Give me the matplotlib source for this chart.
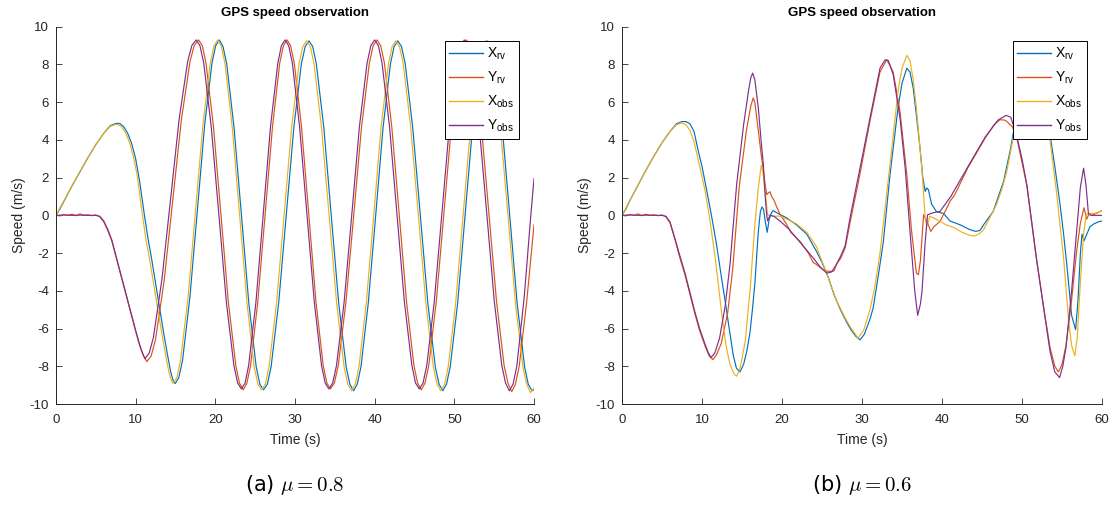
import matplotlib
matplotlib.use("Agg")
import matplotlib.pyplot as plt

plt.rcParams["font.family"] = ["Liberation Sans", "DejaVu Sans"]
plt.rcParams["mathtext.fontset"] = "custom"
plt.rcParams["mathtext.rm"] = "Liberation Sans"
plt.rcParams["mathtext.it"] = "Liberation Sans:italic"
plt.rcParams["axes.unicode_minus"] = False

# MATLAB default line colours
C_XRV, C_YRV, C_XOBS, C_YOBS = "#0072BD", "#D95319", "#EDB120", "#7E2F8E"
LABELS = ["X$_{\\mathrm{rv}}$", "Y$_{\\mathrm{rv}}$", "X$_{\\mathrm{obs}}$", "Y$_{\\mathrm{obs}}$"]

# ---------------- mu = 0.8 ----------------
T_XRV_A = [0, 0.5, 1, 2, 3, 4, 5, 6, 6.8, 7.5, 8.0, 8.5, 9.0, 9.5, 10.0, 10.5, 11.1, 11.5, 12.0, 12.5,
           13.0, 13.5, 14.0, 14.4, 14.7, 14.95,
           15.41, 15.88, 16.8, 17.73, 18.65, 19.58, 20.04, 20.5,
           20.96, 21.43, 22.35, 23.28, 24.2, 25.13, 25.59, 26.05,
           26.53, 27.0, 27.95, 28.9, 29.85, 30.8, 31.28, 31.75,
           32.22, 32.68, 33.62, 34.55, 35.48, 36.42, 36.88, 37.35,
           37.81, 38.28, 39.2, 40.13, 41.05, 41.98, 42.44, 42.9,
           43.37, 43.84, 44.78, 45.73, 46.67, 47.61, 48.08, 48.55,
           49.02, 49.48, 50.42, 51.35, 52.28, 53.22, 53.68, 54.15,
           54.62, 55.08, 56.02, 56.95, 57.88, 58.82, 59.28, 59.75, 60.0]
XRV_A = [0, 0.35, 0.75, 1.55, 2.3, 3.05, 3.75, 4.35, 4.75, 4.87, 4.87, 4.7, 4.35, 3.8, 3.0, 1.8, 0.0, -1.1, -2.3, -3.6,
         -4.9, -6.2, -7.4, -8.3, -8.75, -8.92,
         -8.61, -7.7, -4.37, 0.19, 4.75, 8.08, 8.99, 9.3,
         8.95, 8.03, 4.64, 0.0, -4.64, -8.03, -8.95, -9.25,
         -8.95, -8.03, -4.64, 0.0, 4.64, 8.03, 8.95, 9.25,
         8.95, 8.03, 4.64, 0.0, -4.64, -8.03, -8.95, -9.3,
         -8.95, -8.03, -4.64, 0.0, 4.64, 8.03, 8.95, 9.25,
         8.95, 8.03, 4.64, 0.0, -4.64, -8.03, -8.95, -9.3,
         -8.95, -8.03, -4.64, 0.0, 4.64, 8.03, 8.95, 9.25,
         8.95, 8.03, 4.64, 0.0, -4.64, -8.03, -8.95, -9.3, -9.25]

T_YRV_A = [0, 0.5, 1, 1.5, 2, 2.5, 3, 3.5, 4, 4.5, 5, 5.5, 6, 6.5, 7, 7.5, 8, 8.5, 9, 9.5, 10, 10.5, 11.0, 11.4,
           11.94, 12.48, 13.57, 14.65, 15.73, 16.82, 17.36, 17.9,
           18.37, 18.83, 19.77, 20.7, 21.63, 22.57, 23.03, 23.5,
           23.96, 24.42, 25.33, 26.25, 27.17, 28.08, 28.54, 29.0,
           29.45, 29.91, 30.82, 31.73, 32.63, 33.54, 34.0, 34.45,
           34.94, 35.43, 36.4, 37.38, 38.35, 39.33, 39.81, 40.3,
           40.76, 41.23, 42.15, 43.08, 44.0, 44.93, 45.39, 45.85,
           46.32, 46.79, 47.73, 48.68, 49.62, 50.56, 51.03, 51.5,
           51.98, 52.45, 53.4, 54.35, 55.3, 56.25, 56.73, 57.2,
           57.67, 58.14, 59.08, 60.0]
YRV_A = [0, -0.03, 0.04, 0.0, 0.06, -0.02, 0.08, 0.01, 0.03, -0.02, 0.02, -0.08, -0.35, -0.8, -1.35, -2.15,
         -2.95, -3.75, -4.55, -5.35, -6.15, -6.9, -7.45, -7.75,
         -7.46, -6.61, -3.49, 0.78, 5.04, 8.16, 9.01, 9.3,
         8.99, 8.06, 4.68, 0.05, -4.58, -7.96, -8.89, -9.25,
         -8.89, -7.96, -4.58, 0.05, 4.68, 8.06, 8.99, 9.3,
         8.99, 8.06, 4.68, 0.05, -4.58, -7.96, -8.89, -9.2,
         -8.89, -7.96, -4.58, 0.05, 4.68, 8.06, 8.99, 9.3,
         8.99, 8.06, 4.68, 0.05, -4.58, -7.96, -8.89, -9.25,
         -8.89, -7.96, -4.58, 0.05, 4.68, 8.06, 8.99, 9.3,
         8.99, 8.06, 4.68, 0.05, -4.58, -7.96, -8.89, -9.35,
         -8.95, -8.0, -4.6, -0.5]

T_XOBS_A = [0, 0.5, 1, 2, 3, 4, 5, 6, 6.8, 7.6, 8.2, 8.7, 9.2, 9.7, 10.2, 10.85, 11.3, 11.8, 12.3, 12.8,
            13.3, 13.8, 14.2, 14.5, 14.7,
            15.17, 15.63, 16.57, 17.5, 18.43, 19.37, 19.83, 20.3,
            20.76, 21.22, 22.13, 23.05, 23.97, 24.88, 25.34, 25.8,
            26.27, 26.74, 27.68, 28.63, 29.57, 30.51, 30.98, 31.45,
            31.92, 32.39, 33.33, 34.28, 35.22, 36.16, 36.63, 37.1,
            37.56, 38.03, 38.95, 39.88, 40.8, 41.73, 42.19, 42.65,
            43.12, 43.59, 44.53, 45.48, 46.42, 47.36, 47.83, 48.3,
            48.77, 49.23, 50.17, 51.1, 52.03, 52.97, 53.43, 53.9,
            54.37, 54.84, 55.78, 56.73, 57.67, 58.61, 59.08, 59.55, 60.0]
XOBS_A = [0, 0.4, 0.78, 1.57, 2.32, 3.05, 3.75, 4.35, 4.72, 4.83, 4.72, 4.4, 3.9, 3.15, 2.1, 0.0, -1.3, -2.45,
          -3.75, -5.05, -6.3, -7.5, -8.35, -8.78, -8.9,
          -8.61, -7.7, -4.37, 0.19, 4.75, 8.08, 8.99, 9.3,
          8.95, 8.03, 4.64, 0.0, -4.64, -8.03, -8.95, -9.25,
          -8.95, -8.03, -4.64, 0.0, 4.64, 8.03, 8.95, 9.25,
          8.95, 8.03, 4.64, 0.0, -4.64, -8.03, -8.95, -9.3,
          -8.95, -8.03, -4.64, 0.0, 4.64, 8.03, 8.95, 9.25,
          8.95, 8.03, 4.64, 0.0, -4.64, -8.03, -8.95, -9.3,
          -8.95, -8.03, -4.64, 0.0, 4.64, 8.03, 8.95, 9.25,
          8.95, 8.03, 4.64, 0.0, -4.64, -8.03, -8.95, -9.4, -9.15]

T_YOBS_A = [0, 1, 2, 3, 4, 5, 5.5, 6, 6.5, 7, 7.5, 8, 8.5, 9, 9.5, 10, 10.5, 10.8, 11.15,
            11.69, 12.23, 13.3, 14.38, 15.45, 16.53, 17.06, 17.6,
            18.07, 18.55, 19.49, 20.44, 21.38, 22.33, 22.8, 23.27,
            23.73, 24.18, 25.1, 26.01, 26.92, 27.84, 28.29, 28.75,
            29.21, 29.67, 30.58, 31.5, 32.42, 33.33, 33.79, 34.25,
            34.73, 35.21, 36.17, 37.13, 38.08, 39.04, 39.52, 40.0,
            40.47, 40.93, 41.87, 42.8, 43.73, 44.67, 45.13, 45.6,
            46.07, 46.54, 47.48, 48.43, 49.37, 50.31, 50.78, 51.25,
            51.72, 52.19, 53.13, 54.08, 55.02, 55.96, 56.43, 56.9,
            57.37, 57.84, 58.78, 59.6, 60.0]
YOBS_A = [0, 0.02, 0, 0.01, 0, 0, -0.05, -0.3, -0.75, -1.3, -2.1, -2.9, -3.7, -4.5, -5.3, -6.1, -6.85, -7.25, -7.6,
          -7.31, -6.47, -3.38, 0.85, 5.08, 8.17, 9.01, 9.3,
          8.99, 8.06, 4.68, 0.05, -4.58, -7.96, -8.89, -9.2,
          -8.89, -7.96, -4.58, 0.05, 4.68, 8.06, 8.99, 9.3,
          8.99, 8.06, 4.68, 0.05, -4.58, -7.96, -8.89, -9.2,
          -8.89, -7.96, -4.58, 0.05, 4.68, 8.06, 8.99, 9.3,
          8.99, 8.06, 4.68, 0.05, -4.58, -7.96, -8.89, -9.2,
          -8.89, -7.96, -4.58, 0.05, 4.68, 8.06, 8.99, 9.3,
          8.99, 8.06, 4.68, 0.05, -4.58, -7.96, -8.89, -9.3,
          -8.95, -8.0, -4.3, 0.0, 1.95]

# ---------------- mu = 0.6 ----------------
T_XRV_B = [0, 0.5, 1, 2, 3, 4, 5, 6, 6.8, 7.5, 8.0, 8.5, 9.0, 9.54, 10.0, 10.6, 11.2, 11.8, 12.4, 12.9,
           13.4, 13.9, 14.3, 14.75, 15.2, 15.6, 16.0, 16.3, 16.6, 17.04, 17.3, 17.5, 17.7, 17.9, 18.15, 18.4,
           18.7, 18.9, 19.5, 20.6, 21.8, 23.1, 24.3, 25.0, 25.8, 26.5, 27.3, 28.0, 28.6, 29.2, 29.75, 30.3,
           31.0, 31.4, 32.0, 32.67, 33.5, 34.5, 35.0, 35.6, 36.0, 36.4, 36.8, 37.25, 37.6, 37.9, 38.1, 38.3,
           38.7, 39.3, 40.2, 41.0, 42.25, 43.5, 44.2, 44.75, 45.2, 46.4, 47.7, 48.5, 49.1, 49.8, 50.5, 51.4,
           52.3, 53.0, 53.6, 54.1, 54.75, 55.2, 55.6, 56.2, 56.7, 57.0, 57.3, 57.5, 57.75, 58.1, 58.5, 59.0,
           59.5, 60.0]
XRV_B = [0, 0.35, 0.8, 1.6, 2.4, 3.15, 3.85, 4.45, 4.85, 4.97, 4.97, 4.85, 4.45, 3.4, 2.6, 1.3, -0.05, -1.5,
         -3.2, -4.56, -6.0, -7.4, -8.1, -8.3, -7.9, -7.2, -6.2, -5.0, -3.67, -0.85, 0.2, 0.45, 0.3, -0.3,
         -0.9, -0.2, 0.15, 0.25, 0.1, -0.14, -0.5, -1.0, -1.9, -2.5, -3.3, -4.2, -5.0, -5.6, -6.05, -6.4,
         -6.6, -6.3, -5.5, -4.9, -3.3, -1.4, 2.16, 5.69, 7.0, 7.8, 7.6, 6.75, 5.3, 3.57, 2.0, 1.27, 1.45,
         1.36, 0.6, 0.2, 0.1, -0.3, -0.5, -0.76, -0.85, -0.8, -0.5, 0.21, 1.8, 3.39, 4.8, 6.3, 7.5, 8.2,
         7.4, 5.6, 4.0, 2.6, 0.6, -1.0, -2.6, -5.3, -6.06, -4.5, -2.0, -1.0, -1.35, -1.0, -0.6, -0.45,
         -0.35, -0.3]

T_YRV_B = [0, 0.5, 1, 1.5, 2, 2.5, 3, 3.5, 4, 4.5, 5, 5.5, 6, 6.6, 7.2, 7.9, 8.5, 9.1, 9.7, 10.4, 10.9,
           11.36, 11.8, 12.4, 13.2, 13.85, 14.65, 15.55, 16.1, 16.4, 16.6, 16.8, 17.04, 17.4, 17.67, 17.9,
           18.1, 18.3, 18.5, 18.7, 19.0, 19.3, 19.7, 20.6, 21.1, 22.25, 23.3, 23.9, 24.3, 25.1, 25.6, 26.0,
           26.5, 26.8, 27.3, 27.9, 28.5, 29.75, 31.0, 32.25, 33.1, 33.9, 34.75, 35.6, 36.2, 36.8, 37.05,
           37.3, 37.7, 38.1, 38.6, 39.0, 39.75, 40.5, 41.0, 41.6, 43.2, 45.4, 46.5, 47.25, 47.8, 48.1, 48.5,
           48.8, 49.3, 50.6, 51.8, 52.7, 53.5, 54.1, 54.55, 55.0, 55.5, 56.2, 56.8, 57.3, 57.75, 58.1,
           58.4, 59.0, 60.0]
YRV_B = [0, -0.03, 0.05, 0.0, 0.08, -0.02, 0.06, 0.0, 0.03, -0.02, 0.02, -0.08, -0.4, -1.25, -2.2, -3.2,
         -4.2, -5.2, -6.1, -6.95, -7.45, -7.65, -7.4, -6.8, -5.2, -2.8, 1.5, 4.5, 5.8, 6.22, 6.0, 5.3, 4.5,
         3.2, 2.4, 1.6, 1.1, 1.2, 1.25, 1.0, 0.8, 0.48, 0.1, -0.5, -0.9, -1.38, -2.0, -2.5, -2.6, -2.88,
         -2.95, -2.97, -2.95, -2.6, -2.3, -1.73, -0.4, 2.2, 5.0, 7.6, 8.25, 7.6, 5.5, 2.16, -0.85, -3.06,
         -3.15, -2.4, 0.03, -0.3, -0.85, -0.6, -0.32, 0.3, 0.74, 1.1, 2.5, 4.1, 4.8, 5.07, 5.05, 4.98, 4.8,
         4.7, 4.2, 1.6, -2.3, -4.85, -7.0, -8.0, -8.3, -7.9, -6.9, -4.5, -2.0, -0.4, 0.4, -0.2,
         0.1, 0.05, 0.25]

T_XOBS_B = [0, 0.5, 1, 2, 3, 4, 5, 6, 6.8, 7.45, 8.0, 8.5, 9.0, 9.5, 10.0, 10.4, 10.9, 11.6, 12.0, 12.46,
            13.0, 13.5, 14.0, 14.3, 14.7, 15.0, 15.4, 16.0, 16.6, 17.04, 17.4, 17.6, 17.9, 18.2, 18.9, 19.7,
            20.6, 21.8, 23.1, 24.3, 25.6, 26.8, 27.9, 28.6, 29.5, 30.2, 31.0, 31.6, 32.25, 33.5, 34.5, 35.0,
            35.6, 36.0, 36.4, 36.8, 37.2, 37.5, 37.75, 37.9, 38.1, 38.5, 39.0, 39.75, 40.5, 41.6, 42.5, 43.5,
            44.0, 44.6, 45.2, 46.0, 46.8, 47.5, 48.1, 48.9, 49.3, 50.0, 50.8, 51.3, 52.0, 52.8, 53.5, 54.3,
            55.2, 55.8, 56.2, 56.6, 56.9, 57.3, 57.7, 58.0, 58.3, 59.0, 59.5, 60.0]
XOBS_B = [0, 0.4, 0.8, 1.6, 2.4, 3.15, 3.85, 4.45, 4.8, 4.9, 4.8, 4.5, 3.9, 3.0, 2.05, 1.27, 0.0, -2.08,
          -3.5, -5.2, -6.9, -7.9, -8.4, -8.53, -8.2, -7.6, -6.68, -4.03, -0.5, 1.45, 2.65, 2.3, 1.27, 0.03,
          -0.05, -0.04, -0.2, -0.45, -0.9, -1.65, -3.1, -4.5, -5.44, -5.95, -6.5, -6.1, -5.0, -3.8, -2.0,
          2.69, 6.57, 7.8, 8.48, 8.2, 7.2, 5.69, 3.8, 2.4, 0.8, -0.14, -0.58, -0.05, -0.15, -0.32, -0.5,
          -0.67, -0.9, -1.06, -1.1, -1.0, -0.76, -0.1, 0.56, 1.4, 2.33, 4.1, 4.98, 6.6, 8.0, 8.6, 7.8, 5.8,
          4.0, 1.27, -2.26, -5.44, -6.9, -7.45, -6.5, -3.5, -1.0, 0.0, 0.1, 0.1, 0.15, 0.25]

T_YOBS_B = [0, 1, 2, 3, 4, 5, 5.5, 6, 6.6, 7.2, 7.9, 8.5, 9.1, 9.7, 10.4, 10.8, 11.15, 11.6, 12.2, 12.9,
            13.5, 14.33, 15.2, 15.8, 16.1, 16.33, 16.6, 17.04, 17.4, 17.67, 17.9, 18.08, 18.2, 18.5, 19.0,
            19.75, 20.8, 21.8, 22.9, 23.9, 24.8, 25.6, 26.2, 26.8, 27.4, 27.9, 28.5, 29.75, 31.0, 32.25,
            32.9, 33.3, 33.9, 34.75, 35.4, 36.0, 36.6, 36.96, 37.3, 37.5, 37.9, 38.2, 38.9, 39.75, 41.1,
            43.2, 45.4, 47.0, 48.0, 48.6, 49.3, 50.0, 50.6, 51.2, 51.8, 52.7, 53.5, 54.1, 54.7, 55.1, 55.5,
            56.2, 56.8, 57.3, 57.7, 58.0, 58.3, 58.6, 59.3, 60.0]
YOBS_B = [0, 0.02, 0.0, 0.01, 0.0, 0.0, -0.05, -0.35, -1.2, -2.1, -3.1, -4.1, -5.1, -6.0, -6.85, -7.3, -7.53,
          -7.3, -6.5, -4.8, -2.6, 1.63, 4.8, 6.57, 7.3, 7.54, 7.2, 5.69, 3.9, 2.69, 1.0, 0.04, -0.3, 0.0,
          -0.05, -0.3, -0.7, -1.2, -1.75, -2.26, -2.75, -3.06, -3.0, -2.6, -2.1, -1.6, -0.14, 2.5, 5.16,
          7.8, 8.25, 8.2, 7.46, 5.16, 2.5, -0.85, -4.03, -5.3, -4.7, -4.03, -1.38, 0.03, 0.14, 0.21, 1.0,
          2.55, 4.15, 5.05, 5.3, 5.2, 4.28, 3.0, 1.63, -0.3, -2.26, -4.9, -7.2, -8.3, -8.6, -8.0, -7.0,
          -4.0, -1.0, 1.5, 2.5, 1.6, 0.1, 0.0, 0.0, 0.0]

W, H = 1116, 508
AX_BOTTOM, AX_TOP = 404, 26.7
INK = "#262626"


def draw_panel(ax, series, caption):
    for (t, v), color, label in zip(series, [C_XRV, C_YRV, C_XOBS, C_YOBS], LABELS):
        ax.plot(t, v, color=color, lw=0.85, label=label)
    ax.set_xlim(0, 60)
    ax.set_ylim(-10, 10)
    ax.set_xticks(range(0, 61, 10))
    ax.set_yticks(range(-10, 11, 2))
    for side in ("top", "right"):
        ax.spines[side].set_visible(False)
    for side in ("left", "bottom"):
        ax.spines[side].set_color(INK)
        ax.spines[side].set_linewidth(0.7)
    ax.tick_params(direction="in", length=4, width=0.6, colors=INK, labelsize=9.5)
    ax.tick_params(axis="x", pad=7)
    ax.tick_params(axis="y", pad=5)
    ax.set_title("GPS speed observation", fontsize=9.5, fontweight="bold", pad=8)
    ax.set_xlabel("Time (s)", fontsize=10, color=INK, labelpad=5)
    ax.set_ylabel("Speed (m/s)", fontsize=10, color=INK, labelpad=3)
    leg = ax.legend(loc="upper right", bbox_to_anchor=(0.968, 0.962), borderaxespad=0,
                    fancybox=False, framealpha=1, edgecolor="black", fontsize=10,
                    handlelength=2.4, handletextpad=0.3, labelspacing=0.55,
                    borderpad=0.35)
    leg.get_frame().set_linewidth(0.7)
    for handle in leg.get_lines():
        handle.set_linewidth(1.0)
    pos = ax.get_position()
    fig.text(pos.x0 + pos.width / 2, 23 / H, caption, ha="center", va="center",
             fontsize=15, math_fontfamily="cm", family="DejaVu Sans")


fig = plt.figure(figsize=(W / 100, H / 100), dpi=100)
ax_a = fig.add_axes([56 / W, (H - AX_BOTTOM) / H, 478 / W, (AX_BOTTOM - AX_TOP) / H])
ax_b = fig.add_axes([622 / W, (H - AX_BOTTOM) / H, 480 / W, (AX_BOTTOM - AX_TOP) / H])

draw_panel(ax_a, [(T_XRV_A, XRV_A), (T_YRV_A, YRV_A), (T_XOBS_A, XOBS_A), (T_YOBS_A, YOBS_A)],
           "(a) $\\mu = 0.8$")
draw_panel(ax_b, [(T_XRV_B, XRV_B), (T_YRV_B, YRV_B), (T_XOBS_B, XOBS_B), (T_YOBS_B, YOBS_B)],
           "(b) $\\mu = 0.6$")

fig.savefig("out.png", dpi=100, facecolor="white")
